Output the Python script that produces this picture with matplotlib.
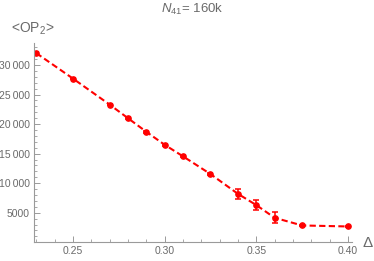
import matplotlib
matplotlib.use("Agg")
import matplotlib.pyplot as plt
from matplotlib.ticker import MultipleLocator, FuncFormatter

plt.rcParams["font.family"] = ["Liberation Sans", "DejaVu Sans"]
plt.rcParams["mathtext.fontset"] = "custom"
plt.rcParams["mathtext.rm"] = "Liberation Sans"
plt.rcParams["mathtext.it"] = "Liberation Sans:italic"

delta = [0.23, 0.25, 0.27, 0.28, 0.29, 0.30, 0.31, 0.325, 0.34, 0.35, 0.36, 0.375, 0.40]
op2 = [32000, 27700, 23300, 21000, 18700, 16500, 14550, 11550, 8200, 6300, 4150, 2850, 2680]
err = [150, 150, 150, 150, 150, 150, 150, 200, 850, 850, 900, 120, 120]

title = r"$N_{41}$= 160k"
ylabel = r"<OP$_2$>"
xlabel = "Δ"

grey = "#9a9a9a"
txt = "#6a6a6a"

fig = plt.figure(figsize=(3.74, 2.61), dpi=100)
ax = fig.add_axes([0.0896, 0.0716, 0.9411 - 0.0896, 0.835 - 0.0716])

ax.errorbar(delta, op2, yerr=err, color="#ff0000", ls=(0, (3, 1.6)), lw=1.5,
            marker="o", ms=3.8, capsize=2.0, elinewidth=1.1, capthick=1.1)

ax.set_xlim(0.2285, 0.4022)
ax.set_ylim(0, 33700)
for s in ["top", "right"]:
    ax.spines[s].set_visible(False)
for s in ["left", "bottom"]:
    ax.spines[s].set_color(grey)
    ax.spines[s].set_linewidth(0.8)

ax.xaxis.set_major_locator(MultipleLocator(0.05))
ax.xaxis.set_minor_locator(MultipleLocator(0.01))
ax.yaxis.set_major_locator(MultipleLocator(5000))
ax.yaxis.set_minor_locator(MultipleLocator(1000))
ax.xaxis.set_major_formatter(FuncFormatter(lambda v, p: f"{v:.2f}"))
def yfmt(v, p):
    if v <= 0:
        return ""
    s = f"{int(round(v))}"
    if len(s) > 4:
        s = s[:-3] + "\u2009" + s[-3:]
    return s
ax.yaxis.set_major_formatter(FuncFormatter(yfmt))

ax.tick_params(which="major", direction="in", length=4, width=0.7, color=grey,
               labelsize=7.5, labelcolor=txt, pad=2.5)
ax.tick_params(which="minor", direction="in", length=2, width=0.6, color=grey)

fig.text(0.514, 0.962, title, ha="center", va="center", fontsize=9.5, color=txt)
fig.text(0.03, 0.89, ylabel, ha="left", va="center", fontsize=10, color=txt)
fig.text(0.982, 0.07, xlabel, ha="center", va="center", fontsize=11, color=txt)

fig.savefig("out.png", dpi=100)
